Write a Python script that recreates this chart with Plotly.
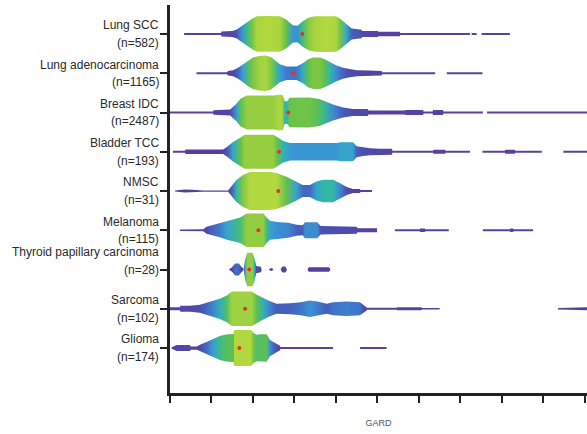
import plotly.graph_objects as go
from plotly.colors import sample_colorscale

# ---------------- data ----------------
categories = ["Lung SCC", "Lung adenocarcinoma", "Breast IDC", "Bladder TCC", "NMSC",
              "Melanoma", "Thyroid papillary carcinoma", "Sarcoma", "Glioma"]
sample_sizes = [582, 1165, 2487, 193, 31, 115, 28, 102, 174]
medians = [31.9, 29.7, 28.5, 26.3, 26.1, 21.3, 19.1, 18.1, 16.7]
x_ticks = [0, 10, 20, 30, 40, 50, 60, 70, 80, 90, 100]

# density profiles: pieces of (GARD, relative density) knots
lung_scc = [
    [(3.4, 0.06), (12.3, 0.06), (12.4, 0.14), (15.0, 0.16), (16.0, 0.24), (17.3, 0.46),
     (18.5, 0.65), (19.7, 0.83), (20.9, 0.98), (23.5, 1.0), (26.5, 0.98), (28.0, 0.80),
     (29.6, 0.48), (30.7, 0.46), (32.0, 0.70), (33.5, 0.92), (35.0, 0.98), (38.0, 1.0),
     (40.0, 0.98), (41.0, 0.85), (42.5, 0.55), (43.8, 0.30), (46.2, 0.24), (46.3, 0.17),
     (50.1, 0.17), (50.2, 0.13), (55.4, 0.13), (55.5, 0.05), (72.3, 0.05)],
    [(72.7, 0.05), (73.9, 0.05)],
    [(75.1, 0.05), (81.9, 0.05)],
]
lung_adeno = [
    [(6.4, 0.05), (13.7, 0.05), (14.0, 0.12), (15.2, 0.17), (16.5, 0.32), (17.6, 0.50),
     (19.0, 0.75), (20.0, 0.87), (21.5, 0.96), (23.0, 0.98), (24.3, 0.90), (25.5, 0.70),
     (26.5, 0.50), (28.1, 0.38), (30.5, 0.37), (32.0, 0.56), (33.3, 0.78), (34.5, 0.87),
     (36.1, 0.87), (37.3, 0.78), (38.6, 0.62), (40.0, 0.45), (41.7, 0.30), (43.0, 0.24),
     (45.0, 0.17), (48.0, 0.15), (51.0, 0.13), (51.1, 0.05), (63.9, 0.05)],
    [(66.7, 0.05), (75.3, 0.05)],
]
breast_idc = [
    [(0.0, 0.05), (10.4, 0.05), (10.5, 0.13), (14.5, 0.17), (16.0, 0.48), (17.0, 0.76),
     (18.5, 0.94), (25.0, 0.94), (26.5, 1.0), (27.2, 0.95), (27.6, 0.63), (28.3, 0.63),
     (28.8, 0.82), (33.5, 0.83), (36.0, 0.75), (36.9, 0.67), (39.3, 0.44), (41.7, 0.28),
     (44.1, 0.19), (47.7, 0.19), (47.8, 0.11), (56.6, 0.11), (56.7, 0.14), (61.0, 0.14),
     (61.1, 0.05), (63.3, 0.05), (63.4, 0.14), (65.8, 0.14), (65.9, 0.05), (75.4, 0.05)],
    [(76.4, 0.05), (100.5, 0.05)],
]
bladder_tcc = [
    [(0.7, 0.05), (3.6, 0.05), (3.7, 0.12), (12.8, 0.12), (13.7, 0.26), (15.2, 0.54),
     (16.9, 0.78), (18.0, 0.94), (24.9, 0.94), (25.7, 0.82), (27.3, 0.60), (28.9, 0.48),
     (40.2, 0.48), (41.0, 0.53), (44.1, 0.53), (45.0, 0.30), (46.5, 0.24), (48.2, 0.20),
     (50.6, 0.17), (53.5, 0.17), (53.6, 0.05), (63.4, 0.05), (63.5, 0.11), (66.3, 0.11),
     (66.4, 0.05), (72.3, 0.05)],
    [(75.3, 0.05), (80.7, 0.05), (80.8, 0.11), (83.1, 0.11), (83.2, 0.05), (89.6, 0.05)],
    [(94.8, 0.05), (100.5, 0.05)],
]
nmsc = [
    [(1.2, 0.03), (3.5, 0.08), (5.5, 0.07), (8.0, 0.035), (14.0, 0.035), (14.9, 0.29),
     (16.0, 0.61), (17.6, 0.89), (19.3, 1.05), (24.1, 1.05), (25.7, 1.0), (28.1, 0.79),
     (30.5, 0.52), (32.0, 0.33), (33.7, 0.33), (35.3, 0.52), (36.9, 0.62), (39.3, 0.62),
     (41.0, 0.43), (42.6, 0.22), (44.1, 0.11), (45.8, 0.11), (45.9, 0.05), (48.7, 0.05)],
]
melanoma = [
    [(2.4, 0.04), (8.0, 0.06), (8.8, 0.20), (12.0, 0.39), (13.7, 0.52), (16.9, 0.70),
     (18.5, 0.93), (22.5, 0.93), (23.3, 0.70), (24.1, 0.52), (25.7, 0.46), (28.5, 0.42),
     (30.5, 0.30), (32.0, 0.28), (32.5, 0.44), (35.5, 0.44), (36.3, 0.24), (40.0, 0.22),
     (45.0, 0.19), (45.2, 0.11), (49.9, 0.11)],
    [(54.2, 0.05), (60.2, 0.05), (60.3, 0.10), (61.4, 0.10), (61.5, 0.05), (67.2, 0.05)],
    [(75.4, 0.05), (81.9, 0.05), (82.0, 0.10), (82.7, 0.10), (82.8, 0.05), (87.5, 0.05)],
]
thyroid = [
    [(14.3, 0.03), (14.9, 0.11), (15.7, 0.33), (16.6, 0.33), (17.2, 0.15), (17.7, 0.05)],
    [(17.8, 0.10), (18.1, 0.55), (18.6, 0.93), (19.9, 0.93), (20.4, 0.60), (20.8, 0.20),
     (21.9, 0.15), (22.1, 0.03)],
    [(23.9, 0.03), (24.4, 0.08), (24.9, 0.03)],
    [(26.7, 0.03), (27.1, 0.17), (27.8, 0.17), (28.2, 0.03)],
    [(33.2, 0.06), (33.5, 0.12), (38.3, 0.12), (38.6, 0.06)],
]
sarcoma = [
    [(0.0, 0.08), (2.4, 0.08), (2.5, 0.17), (4.8, 0.17), (7.2, 0.22), (9.6, 0.37),
     (12.0, 0.56), (13.7, 0.74), (14.9, 0.96), (19.7, 0.96), (20.9, 0.78), (22.5, 0.59),
     (24.1, 0.41), (25.7, 0.28), (29.0, 0.30), (31.5, 0.36), (33.7, 0.46), (35.5, 0.40),
     (37.8, 0.28), (39.3, 0.36), (42.5, 0.40), (45.8, 0.36), (46.6, 0.22), (47.4, 0.10),
     (47.5, 0.05), (54.6, 0.05), (54.7, 0.08), (60.6, 0.08), (60.7, 0.04), (65.0, 0.04)],
    [(93.5, 0.04), (97.0, 0.04), (97.1, 0.08), (100.5, 0.08)],
]
glioma = [
    [(0.4, 0.04), (1.6, 0.17), (4.8, 0.17), (5.0, 0.09), (6.5, 0.09), (7.2, 0.18),
     (8.8, 0.33), (10.4, 0.50), (12.0, 0.67), (13.5, 0.75), (15.3, 0.78), (15.5, 1.0),
     (19.5, 1.0), (20.1, 0.85), (20.9, 0.73), (21.7, 0.76), (23.3, 0.76), (24.1, 0.45),
     (25.3, 0.28), (26.5, 0.13), (26.6, 0.05), (39.3, 0.05)],
    [(45.8, 0.05), (52.2, 0.05)],
]
profiles = [lung_scc, lung_adeno, breast_idc, bladder_tcc, nmsc, melanoma, thyroid, sarcoma, glioma]

# ---------------- style ----------------
density_colors = [[0.0, "#5f4199"], [0.12, "#583fa0"], [0.25, "#4852b4"], [0.38, "#3f78cc"],
                  [0.5, "#389fd4"], [0.6, "#2eb4b0"], [0.7, "#43bd78"], [0.8, "#66c04a"],
                  [0.92, "#8dcb41"], [1.0, "#b2d83f"]]
HALF = 0.46  # y-units for a relative density of 1
rows = list(range(len(categories) - 1, -1, -1))

fig = go.Figure()
for pieces, yc in zip(profiles, rows):
    xs, ys = [], []
    for piece in pieces:
        px = [p[0] for p in piece]
        dd = [p[1] for p in piece]
        xs += px + px[::-1] + [None]
        ys += [yc + HALF * d for d in dd] + [yc - HALF * d for d in dd[::-1]] + [None]
    knots = sorted({x: d for piece in pieces for x, d in piece}.items())
    x0, x1 = knots[0][0], knots[-1][0]
    cols = sample_colorscale(density_colors, [min(d, 1.0) for _, d in knots])
    cs = [[(x - x0) / (x1 - x0), c] for (x, _), c in zip(knots, cols)]
    cs[0][0] = 0.0
    cs[-1][0] = 1.0
    fig.add_trace(go.Scatter(
        x=xs, y=ys, mode="lines", fill="toself", line=dict(width=0),
        fillgradient=dict(type="horizontal", colorscale=cs, start=x0, stop=x1),
        hoverinfo="skip", showlegend=False))

fig.add_trace(go.Scatter(x=medians, y=rows, mode="markers",
                         marker=dict(color="#e2302a", size=4), showlegend=False, hoverinfo="skip"))

for name, n, yc in zip(categories, sample_sizes, rows):
    two_on_tick = name.startswith("Thyroid")
    top_shift = 17.5 if two_on_tick else 8.75
    bot_shift = 0 if two_on_tick else -8.75
    for txt, sh in ((name, top_shift), (f"(n={n})", bot_shift)):
        fig.add_annotation(x=0, xref="paper", y=yc, yref="y", text=txt, showarrow=False,
                           xanchor="right", yanchor="middle", xshift=-9, yshift=sh,
                           font=dict(family="Liberation Sans, Arial", size=12, color="#2a2a2a"))

fig.update_layout(
    width=587, height=434, margin=dict(l=170, r=0, t=5, b=41),
    paper_bgcolor="white", plot_bgcolor="white",
    xaxis=dict(range=[0, 100.5], tickvals=x_ticks, showticklabels=False, ticks="outside",
               ticklen=7, tickwidth=2, tickcolor="#222", showline=True, linewidth=2.5,
               linecolor="#222", showgrid=False, zeroline=False,
               title=dict(text="GARD", standoff=18,
                          font=dict(family="Liberation Sans, Arial", size=9, color="#555"))),
    yaxis=dict(range=[-1.146, 8.739], tickvals=rows, ticktext=[""] * len(rows),
               ticks="outside", ticklen=7, tickwidth=2, tickcolor="#222", showline=True,
               linewidth=2.5, linecolor="#222", showgrid=False, zeroline=False),
)

fig.write_html("out.html", config={"displayModeBar": False},
               post_script="document.body.style.margin='0px';document.body.style.overflow='hidden';")
